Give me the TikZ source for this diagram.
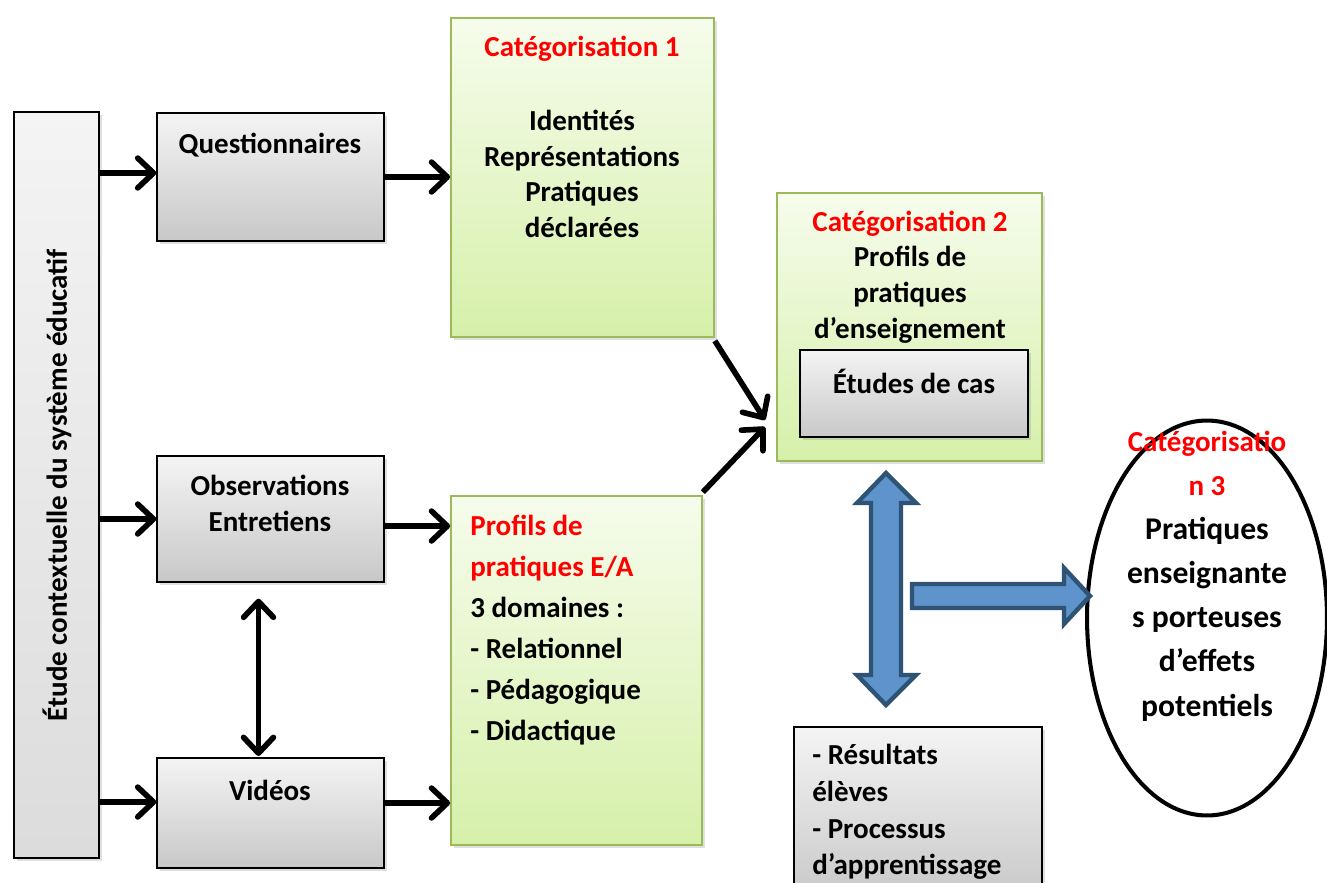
\documentclass[tikz,border=0pt]{standalone}
\usepackage{fontspec}
\setmainfont{Carlito}
\usetikzlibrary{arrows.meta,shapes.geometric,shadows}

\definecolor{boxgreen}{RGB}{155,187,89}
\definecolor{greentop}{RGB}{246,252,236}
\definecolor{greenbot}{RGB}{214,240,170}
\definecolor{graytop}{RGB}{244,244,244}
\definecolor{graybot}{RGB}{200,200,200}
\definecolor{arrowfill}{RGB}{94,147,204}
\definecolor{arrowline}{RGB}{47,83,117}

\tikzset{
  graybox/.style={draw=black, line width=0.8pt, top color=graytop, bottom color=graybot,
    drop shadow={opacity=0.25, shadow xshift=1.5pt, shadow yshift=-1.5pt}},
  greenbox/.style={draw=boxgreen, line width=1pt, top color=greentop, bottom color=greenbot,
    drop shadow={opacity=0.25, shadow xshift=1.5pt, shadow yshift=-1.5pt}},
  boxtext/.style={font=\bfseries\fontsize{16.5}{20.3}\selectfont, inner sep=0pt},
  redtext/.style={boxtext, text=red},
  flow/.style={line width=3.2pt, -{Straight Barb[round,length=9pt,width=17pt,line width=3.2pt]}},
  flowboth/.style={line width=3.2pt, {Straight Barb[round,length=9pt,width=17pt,line width=3.2pt]}-{Straight Barb[round,length=9pt,width=17pt,line width=3.2pt]}},
  blockarrow/.style={fill=arrowfill, draw=arrowline, line width=2.5pt, line join=miter}
}

\begin{document}
\begin{tikzpicture}[x=0.02cm, y=-0.02cm]
  \useasboundingbox (0,0) rectangle (1327,882);

  % Left column
  \node[graybox, bottom color=graytop!45!graybot, minimum width=1.7cm, minimum height=14.92cm] (etude) at (56.5,485) {};
  \node[boxtext, rotate=90] (etudetxt) at (57,485) {Étude contextuelle du système éducatif};

  % Data collection boxes
  \node[graybox, minimum width=4.54cm, minimum height=2.56cm] (quest) at (270.5,177) {};
  \node[boxtext] (questtxt) at (270,145) {Questionnaires};
  \node[graybox, minimum width=4.54cm, minimum height=2.52cm] (obs) at (270.5,519) {};
  \node[boxtext, align=center, font=\bfseries\fontsize{16.5}{20.4}\selectfont] (obstxt) at (270,503) {Observations\\Entretiens};
  \node[graybox, minimum width=4.54cm, minimum height=2.2cm] (vid) at (270.5,813) {};
  \node[boxtext] (vidtxt) at (270,790) {Vidéos};

  % Categorisation 1
  \node[greenbox, minimum width=5.26cm, minimum height=6.38cm] (cat1) at (582.5,177.5) {};
  \node[redtext] (cat1title) at (582,49) {Catégorisation 1};
  \node[boxtext, align=center] (cat1txt) at (582,174) {Identités\\Représentations\\Pratiques\\déclarées};

  % Profils E/A
  \node[greenbox, minimum width=5.02cm, minimum height=6.98cm] (prof) at (576.5,670.5) {};
  \node[boxtext, align=left, anchor=west, font=\bfseries\fontsize{16.5}{23.4}\selectfont] (proftxt) at (470,630)
    {\textcolor{red}{Profils de}\\\textcolor{red}{pratiques E/A}\\3 domaines :\\- Relationnel\\- Pédagogique\\- Didactique};

  % Categorisation 2
  \node[greenbox, minimum width=5.3cm, minimum height=5.36cm] (cat2) at (909.5,327) {};
  \node[boxtext, align=center] (cat2txt) at (910,277)
    {\textcolor{red}{Catégorisation 2}\\Profils de\\pratiques\\d’enseignement};
  \node[graybox, minimum width=4.56cm, minimum height=1.74cm] (cas) at (914,393.5) {};
  \node[boxtext] (castxt) at (914,381) {Études de cas};

  % Results box (cut at the bottom)
  \node[graybox, minimum width=4.96cm, minimum height=3.46cm] (res) at (918,813.5) {};
  \node[boxtext, align=left, anchor=west, font=\bfseries\fontsize{16.5}{20.8}\selectfont] (restxt) at (812,812)
    {- Résultats\\élèves\\- Processus\\d’apprentissage};

  % Categorisation 3
  \node[ellipse, draw, line width=2.3pt, fill=white, minimum width=4.8cm, minimum height=7.9cm] (cat3) at (1207,618) {};
  \node[boxtext, align=center, font=\bfseries\fontsize{18}{25.1}\selectfont] (cat3txt) at (1207,576)
    {\textcolor{red}{\fontsize{16.5}{25.1}\selectfont Catégorisatio}\\\textcolor{red}{\fontsize{16.5}{25.1}\selectfont n 3}\\Pratiques\\enseignante\\s porteuses\\d’effets\\potentiels};

  % Arrows
  \draw[flow] (etude.east |- 0,173) -- (quest.west |- 0,173);
  \draw[flow] (etude.east |- obs.west) -- (obs.west);
  \draw[flow] (etude.east |- 0,802) -- (vid.west |- 0,802);
  \draw[flow] (quest.east) -- (quest.east -| cat1.west);
  \draw[flow] (obs.east |- 0,526) -- (prof.west |- 0,526);
  \draw[flow] (vid.east |- 0,803) -- (prof.west |- 0,803);
  \draw[flowboth] (obs.south) ++(-12,16) coordinate (obstop) -- (obstop |- 0,756);
  \coordinate (conv1) at (765,420);
  \coordinate (conv2) at (765,427);
  \draw[flow] (cat1.south east) ++(0,3) -- (conv1);
  \draw[flow] (prof.north east) ++(0,-3) -- (conv2);

  % Block arrows
  \draw[blockarrow] (886,473) -- (916,503) -- (901,503) -- (901,675) -- (916,675) -- (886,705)
    -- (857,675) -- (871,675) -- (871,503) -- (857,503) -- cycle;
  \draw[blockarrow] (912,584) -- (1064,584) -- (1064,568) -- (1090,596) -- (1064,624)
    -- (1064,608) -- (912,608) -- cycle;
\end{tikzpicture}
\end{document}
